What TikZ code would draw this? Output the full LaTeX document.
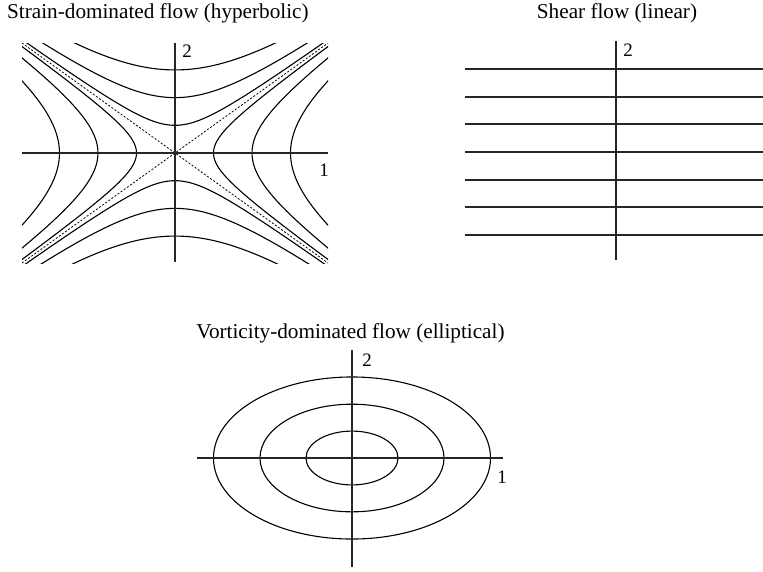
\documentclass[tikz,border=0pt]{standalone}
\usepackage{fontspec}
\setmainfont{Liberation Serif}
\usepackage{tikz}
\usetikzlibrary{positioning}

\begin{document}
\begin{tikzpicture}[x=1pt, y=-1pt,
    axis/.style={line width=1.3pt, black!85},
    stream/.style={line width=1.1pt, black},
    asym/.style={line width=0.8pt, black, dash pattern=on 2pt off 1.8pt},
    title/.style={anchor=base, inner sep=0pt, font=\fontsize{21.2}{25}\selectfont},
    axlabel/.style={inner sep=0pt, font=\fontsize{19}{22}\selectfont}]
  \useasboundingbox (0,0) rectangle (763,571);

  % strain-dominated flow
  \coordinate (hc) at (175,153);
  \node[title, anchor=base west] (htitle) at (7,18.5) {Strain-dominated flow (hyperbolic)};
  \begin{scope}[shift={(hc)}]
    \clip (-153,-110) rectangle (153,110);
    \foreach \a in {38.5,77,115.5} {
      \draw[stream] plot[smooth, domain=-2.3:2.3, samples=61, variable=\t] ({\a*cosh(\t)}, {0.719*\a*sinh(\t)});
      \draw[stream] plot[smooth, domain=-2.3:2.3, samples=61, variable=\t] ({-\a*cosh(\t)}, {0.719*\a*sinh(\t)});
      \draw[stream] plot[smooth, domain=-2.3:2.3, samples=61, variable=\t] ({\a*sinh(\t)}, {0.719*\a*cosh(\t)});
      \draw[stream] plot[smooth, domain=-2.3:2.3, samples=61, variable=\t] ({\a*sinh(\t)}, {-0.719*\a*cosh(\t)});
    }
    \draw[asym] (-153,-110) -- (153,110);
    \draw[asym] (-153,110) -- (153,-110);
  \end{scope}
  \draw[axis] (22,153) -- (328,153);
  \draw[axis] (175,43) -- (175,262);
  \node[axlabel] (h2) at (187,51) {2};
  \node[axlabel] (h1) at (324,170) {1};

  % shear flow
  \node[title] (stitle) at (617,18.5) {Shear flow (linear)};
  \foreach \y in {69,97,124,180,207,235}
    \draw[axis] (465,\y) -- (767,\y);
  \draw[axis] (465,152) -- (767,152);
  \draw[axis] (616,41) -- (616,260);
  \node[axlabel] (s2) at (628,50) {2};
  \node[axlabel] (s1) at (766,170) {1};

  % vorticity-dominated flow
  \coordinate (ec) at (352,458);
  \node[title] (etitle) at (350.5,338) {Vorticity-dominated flow (elliptical)};
  \foreach \a in {46,92,138.5}
    \draw[stream] (ec) ellipse [x radius=\a, y radius=0.585*\a];
  \draw[axis] (197,458) -- (503,458);
  \draw[axis] (352,350) -- (352,567);
  \node[axlabel] (e2) at (367,360) {2};
  \node[axlabel] (e1) at (502,477) {1};
\end{tikzpicture}
\end{document}
